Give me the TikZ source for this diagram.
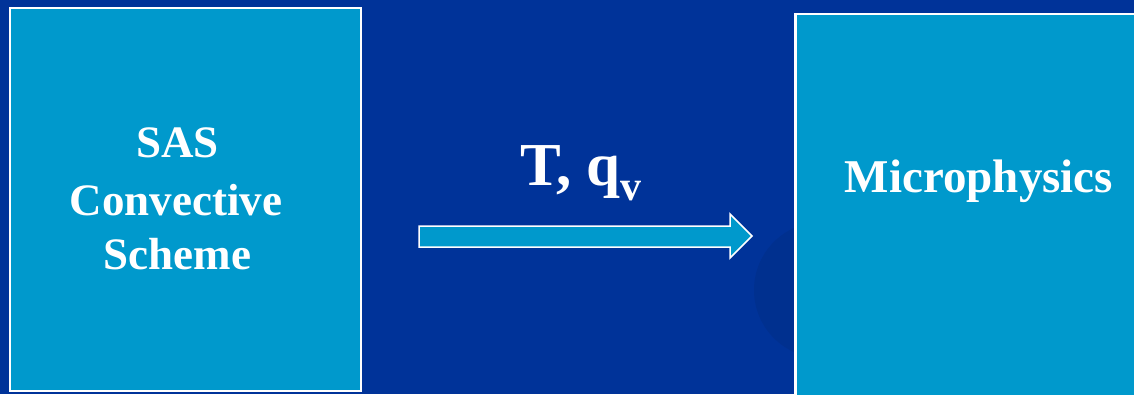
\documentclass[tikz,border=0pt]{standalone}
\usepackage{fontspec}
\setmainfont{Liberation Serif}
\definecolor{bgblue}{HTML}{003399}
\definecolor{boxblue}{HTML}{0099CC}
\definecolor{shadecol}{HTML}{00308F}
\tikzset{
  panel/.style={draw=white, line width=2.5pt, fill=boxblue},
  lbl/.style={text=white, font=\bfseries\fontsize{45}{56}\selectfont, align=center, inner sep=0pt},
}
\begin{document}
\begin{tikzpicture}[x=1pt,y=-1pt]
\useasboundingbox (0,0) rectangle (1134,394);
\clip (0,0) rectangle (1134,394);
\fill[bgblue] (0,0) rectangle (1134,394);
\fill[shadecol] (822,290) circle (68);
\node[panel, minimum width=351pt, minimum height=383pt, inner sep=0pt] (sas) at (185.5,199.5) {};
\node[panel, minimum width=345pt, minimum height=390pt, inner sep=0pt] (micro) at (968,209) {};
\node[lbl, anchor=base] (sas1) at (177.5,157) {SAS};
\node[lbl, anchor=base] (sas2) at (176,215) {Convective};
\node[lbl, anchor=base] (sas3) at (177.5,269) {Scheme};
\node[lbl, anchor=base, font=\bfseries\fontsize{47}{56}\selectfont] (mp) at (979,192) {Microphysics};
\node[text=white, font=\bfseries\fontsize{61}{62}\selectfont, anchor=base, inner sep=0pt] (tq) at (581,185) {T, q\raisebox{-15pt}{\fontsize{42}{44}\selectfont v}};
\draw[draw=white, line width=1.5pt, fill=boxblue, line join=miter]
  (419,226) -- (730,226) -- (730,214) -- (752,236) -- (730,258) -- (730,247) -- (419,247) -- cycle;
\end{tikzpicture}
\end{document}
